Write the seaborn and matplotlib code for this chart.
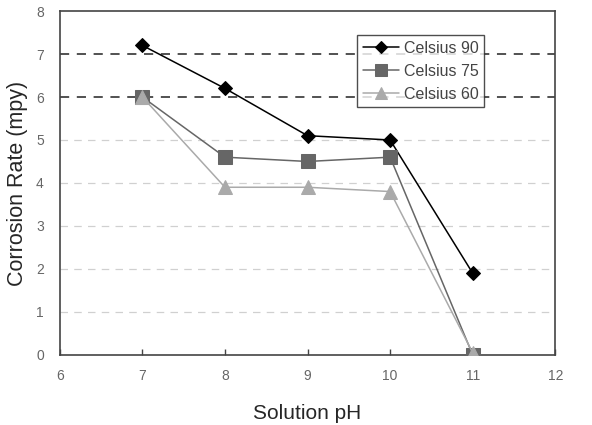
import pandas as pd
import matplotlib
matplotlib.use("Agg")
import matplotlib.pyplot as plt
import seaborn as sns

ph = [7, 8, 9, 10, 11]
celsius_90 = [7.2, 6.2, 5.1, 5.0, 1.9]
celsius_75 = [6.0, 4.6, 4.5, 4.6, 0.0]
celsius_60 = [6.0, 3.9, 3.9, 3.8, 0.05]
series = ["Celsius 90", "Celsius 75", "Celsius 60"]

df = pd.concat([
    pd.DataFrame({"pH": ph, "rate": v, "series": s})
    for s, v in zip(series, [celsius_90, celsius_75, celsius_60])
], ignore_index=True)

sns.set_style("white")
plt.rcParams["font.family"] = ["Liberation Sans", "DejaVu Sans"]

fig = plt.figure(figsize=(5.92, 4.25), dpi=100)
ax = fig.add_axes([0.101, 0.165, 0.837, 0.809])

# gridlines
for y in [1, 2, 3, 4, 5]:
    ax.axhline(y, color="#d0d0d0", ls=(0, (6, 5)), lw=0.9, zorder=0)
for y in [6, 7]:
    ax.axhline(y, color="#222222", ls=(0, (6, 5)), lw=1.1, zorder=0)

palette = {"Celsius 90": "#000000", "Celsius 75": "#666666", "Celsius 60": "#aaaaaa"}
markers = {"Celsius 90": "D", "Celsius 75": "s", "Celsius 60": "^"}
sizes = {"Celsius 90": 7, "Celsius 75": 10, "Celsius 60": 10}

for s in series:
    sub = df[df["series"] == s]
    sns.lineplot(data=sub, x="pH", y="rate", color=palette[s], marker=markers[s],
                 markersize=sizes[s], markeredgecolor=palette[s], lw=1.1,
                 label=s, ax=ax, zorder=3)

ax.set_xlim(6, 12)
ax.set_ylim(0, 8)
ax.set_xticks(range(6, 13))
ax.set_yticks(range(0, 9))
ax.tick_params(axis="x", bottom=True, direction="in", length=4, width=1,
               color="#444444", labelsize=10, labelcolor="#666666", pad=10)
ax.tick_params(axis="y", left=False, labelsize=10, labelcolor="#666666", pad=8)
for sp in ax.spines.values():
    sp.set_color("#444444")
    sp.set_linewidth(1.2)

ax.set_xlabel("Solution pH", fontsize=15, labelpad=15)
ax.set_ylabel("Corrosion Rate (mpy)", fontsize=15.5, labelpad=6)

leg = ax.legend(loc="upper right", bbox_to_anchor=(0.857, 0.93), frameon=True,
                fancybox=False, edgecolor="#222222", fontsize=11.5,
                handlelength=2.3, handletextpad=0.3, borderpad=0.35,
                labelspacing=0.5, borderaxespad=0)
leg.get_frame().set_linewidth(1.0)
for t in leg.get_texts():
    t.set_color("#444444")
for h in leg.legend_handles:
    h.set_markersize(6 if h.get_marker() == "D" else 8)

fig.savefig("out.png", dpi=100)
